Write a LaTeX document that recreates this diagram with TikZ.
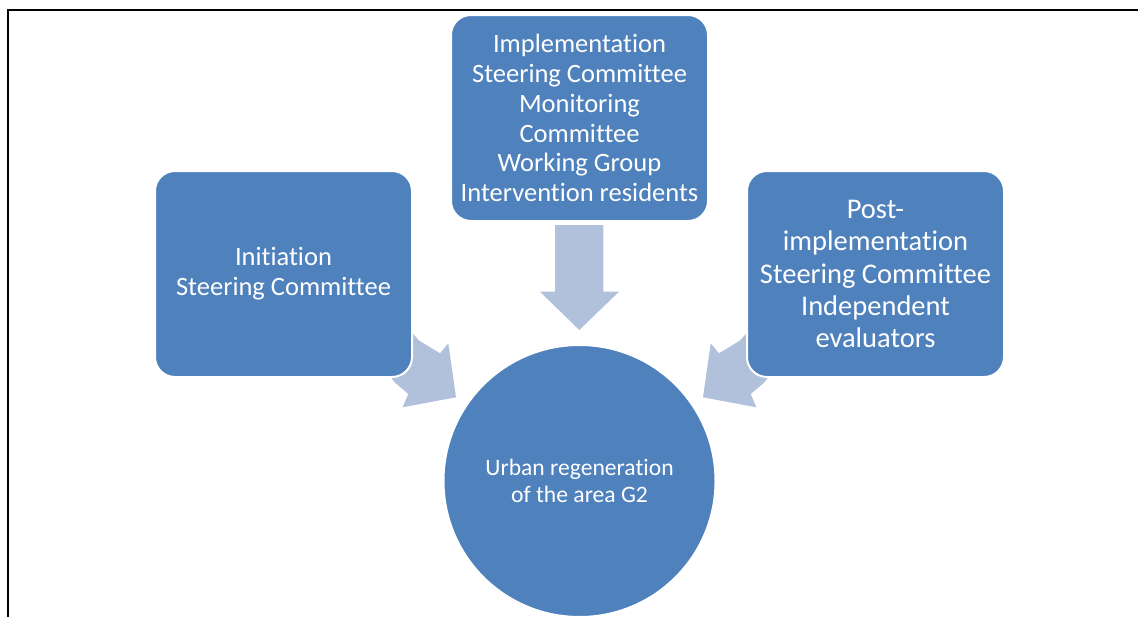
\documentclass[tikz,border=0pt]{standalone}
\usepackage{fontspec}
\setmainfont{Carlito}[Ligatures={NoCommon}]
\definecolor{boxblue}{HTML}{4F81BD}
\definecolor{arrowblue}{HTML}{B2C1DB}
\begin{document}
\begin{tikzpicture}[x=1pt,y=-1pt,
  stagebox/.style={rectangle, rounded corners=20pt, fill=boxblue, draw=white, line width=2pt,
    minimum width=257pt, minimum height=206pt, text=white, align=center, inner sep=0pt},
  hubcircle/.style={circle, fill=boxblue, draw=white, line width=2pt, minimum size=272pt,
    text=white, align=center, inner sep=0pt},
  blockarrow/.style={fill=arrowblue, draw=none},
  midfont/.style={font=\fontsize{26.5}{29.8}\selectfont},
  bigfont/.style={font=\fontsize{28.5}{32.3}\selectfont},
  smallfont/.style={font=\fontsize{23.6}{26.7}\selectfont}]
\useasboundingbox (0,0) rectangle (1138,616);
% frame
\draw[line width=2.2pt] (8.2,617) -- (8.2,10.2) -- (1139,10.2);
% block arrows (drawn below the boxes)
\fill[blockarrow] (555,225) -- (603.3,225) -- (603.3,291.7) -- (619,291.7) -- (579.3,330)
  -- (540,291.7) -- (555,291.7) -- cycle;
\fill[blockarrow] (400,320) -- (419.3,340.7) -- (440,353.3) -- (448.3,343.3) -- (456,397.3)
  -- (402.7,407.3) -- (408.3,394) -- (395,382.7) -- (385,370) -- cycle;
\fill[blockarrow] (759,320) -- (739.7,340.7) -- (719,353.3) -- (710.7,343.3) -- (703,397.3)
  -- (756.3,407.3) -- (750.7,394) -- (764,382.7) -- (774,370) -- cycle;
% stages
\node[stagebox, midfont] (impl) at (579.5,118) {Implementation\\Steering Committee\\Monitoring\\Committee\\Working Group\\Intervention residents};
\node[stagebox, midfont] (init) at (283.5,274) {Initiation\\Steering Committee};
\node[stagebox, bigfont] (post) at (875.5,274) {Post-\\implementation\\Steering Committee\\Independent\\evaluators};
\node[hubcircle, smallfont] (hub) at (579.5,481) {Urban regeneration\\of the area G2};
\end{tikzpicture}
\end{document}
